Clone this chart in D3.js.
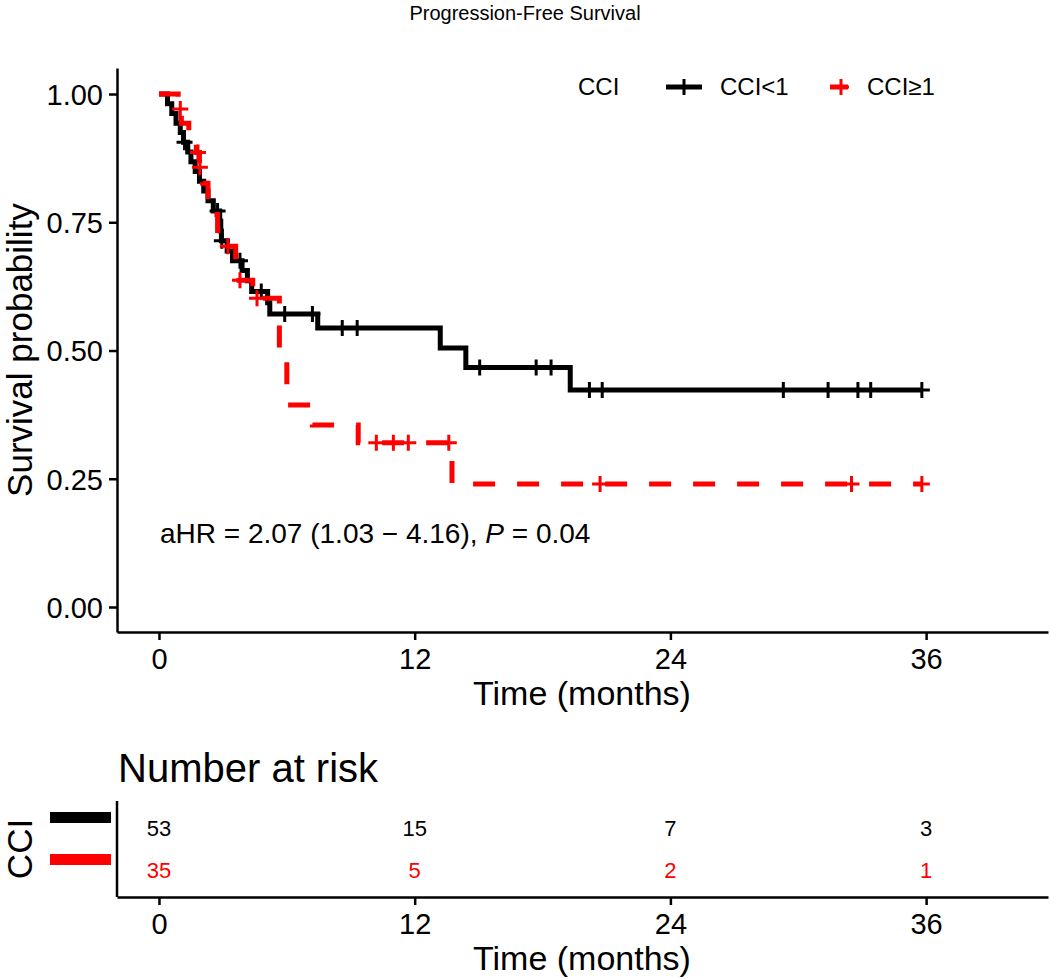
<!DOCTYPE html>
<html>
<head>
<meta charset="utf-8">
<script src="https://cdn.jsdelivr.net/npm/d3@7"></script>
<style>
  body { margin: 0; background: #fff; }
  svg { display: block; font-family: "Liberation Sans", Arial, sans-serif; }
</style>
</head>
<body>
<svg id="canvas" width="1050" height="979"></svg>
<script>
// Kaplan-Meier step points (months, survival after the drop)
let lowTimes = [0.4, 0.6, 0.8, 1.0, 1.15, 1.35, 1.5, 1.7, 1.9, 2.1, 2.3, 2.55, 2.85, 2.9, 2.93, 3.2, 3.45, 3.9, 4.15, 4.35, 5.1, 5.2, 7.45, 13.2, 14.4, 19.3];
let lowSurv = [0.981, 0.962, 0.943, 0.925, 0.906, 0.887, 0.868, 0.849, 0.830, 0.811, 0.792, 0.772, 0.752, 0.733, 0.714, 0.694, 0.675, 0.656, 0.636, 0.615, 0.593, 0.571, 0.544, 0.505, 0.467, 0.423];
let lowCensor = [1.2, 2.75, 2.95, 3.8, 4.8, 5.9, 7.2, 8.6, 9.3, 15.05, 17.7, 18.4, 20.2, 20.8, 29.3, 31.4, 32.8, 33.4, 35.8];

let highTimes = [0.9, 1.05, 1.4, 1.75, 1.9, 2.05, 2.3, 2.6, 2.75, 3.1, 3.6, 3.75, 4.4, 5.65, 6.0, 7.2, 9.35, 13.75];
let highSurv = [0.971, 0.943, 0.914, 0.886, 0.857, 0.826, 0.795, 0.765, 0.734, 0.703, 0.671, 0.637, 0.602, 0.50, 0.394, 0.355, 0.32, 0.24];
let highCensor = [1.0, 1.83, 1.92, 3.23, 3.8, 4.6, 10.2, 11.0, 11.7, 13.6, 20.7, 32.5, 35.8];

let groups = ['CCI<1', 'CCI\u22651'];
let colors = ['#000000', '#ff0000'];

let xTicks = [0, 12, 24, 36];
let yTicks = [0, 0.25, 0.5, 0.75, 1];
let riskTimes = [0, 12, 24, 36];
let riskLow = [53, 15, 7, 3];
let riskHigh = [35, 5, 2, 1];

let canvas = d3.select('#canvas');

let x = d3.scaleLinear().domain([-1.97, 41.72]).range([117, 1048]);
let y = d3.scaleLinear().domain([-0.0487, 1.0507]).range([632, 68]);

// helper: build step points from 1.0 at t=0 to the last follow-up time
let buildSteps = (times, surv, censor) => {
    let pts = [[0, 1]];
    times.forEach((t, i) => pts.push([t, surv[i]]));
    let end = d3.max(censor.concat(times));
    pts.push([end, surv[surv.length - 1]]);
    return pts;
};
let survAt = (times, surv, t) => {
    let i = d3.bisectRight(times, t);
    return i === 0 ? 1 : surv[i - 1];
};

// title
canvas.append('text')
    .attr('x', 525).attr('y', 20)
    .attr('text-anchor', 'middle')
    .attr('font-size', 20)
    .text('Progression-Free Survival');

// axes
let styleAxis = (g, fs) => {
    g.select('.domain').attr('stroke', '#000').attr('stroke-width', 2.5);
    g.selectAll('.tick line').attr('stroke', '#000').attr('stroke-width', 2.5);
    g.selectAll('.tick text').attr('font-size', fs).attr('fill', '#000')
        .attr('font-family', '"Liberation Sans", Arial, sans-serif');
};

let yAxis = canvas.append('g')
    .attr('transform', 'translate(117,0)')
    .call(d3.axisLeft(y).tickValues(yTicks).tickFormat(d3.format('.2f'))
        .tickSize(8).tickSizeOuter(0).tickPadding(6));
styleAxis(yAxis, 29);
yAxis.selectAll('.tick text').attr('dy', '0.36em');

let xAxis = canvas.append('g')
    .attr('transform', 'translate(0,632)')
    .call(d3.axisBottom(x).tickValues(xTicks).tickSize(8).tickSizeOuter(0).tickPadding(8));
styleAxis(xAxis, 29);

canvas.append('text')
    .attr('x', 582).attr('y', 705)
    .attr('text-anchor', 'middle')
    .attr('font-size', 34)
    .text('Time (months)');

canvas.append('text')
    .attr('transform', 'translate(32,350) rotate(-90)')
    .attr('text-anchor', 'middle')
    .attr('font-size', 35)
    .text('Survival probability');

// curves
let stepLine = d3.line()
    .x(d => x(d[0]))
    .y(d => y(d[1]))
    .curve(d3.curveStepAfter);

let series = [
    {times: lowTimes, surv: lowSurv, censor: lowCensor, color: colors[0], dash: null},
    {times: highTimes, surv: highSurv, censor: highCensor, color: colors[1], dash: '22,22'}
];

let crossPath = 'M-8,0H8M0,-8V8';

series.forEach((s) => {
    canvas.append('path')
        .attr('d', stepLine(buildSteps(s.times, s.surv, s.censor)))
        .attr('fill', 'none')
        .attr('stroke', s.color)
        .attr('stroke-width', 5)
        .attr('stroke-dasharray', s.dash);

    canvas.append('g').selectAll('path')
        .data(s.censor)
        .enter()
        .append('path')
        .attr('d', crossPath)
        .attr('transform', (t) => 'translate(' + x(t) + ',' + y(survAt(s.times, s.surv, t)) + ')')
        .attr('stroke', s.color)
        .attr('stroke-width', 3);
});

// legend
let legend = canvas.append('g');
legend.append('text')
    .attr('x', 578).attr('y', 95)
    .attr('font-size', 24)
    .text('CCI');
let keyX = [666, 812];
let labelX = [720, 867];
groups.forEach((g, i) => {
    legend.append('line')
        .attr('x1', keyX[i] + (i === 1 ? 18 : 0)).attr('x2', keyX[i] + 36)
        .attr('y1', 87).attr('y2', 87)
        .attr('stroke', colors[i]).attr('stroke-width', 5);
    legend.append('path')
        .attr('d', crossPath)
        .attr('transform', 'translate(' + (keyX[i] + (i === 1 ? 29 : 18)) + ',87)')
        .attr('stroke', colors[i]).attr('stroke-width', 3);
    legend.append('text')
        .attr('x', labelX[i]).attr('y', 95)
        .attr('font-size', 24)
        .text(g);
});

// annotation
let note = canvas.append('text')
    .attr('x', 160).attr('y', 543)
    .attr('font-size', 28);
note.append('tspan').text('aHR = 2.07 (1.03 \u2212 4.16), ');
note.append('tspan').attr('font-style', 'italic').text('P');
note.append('tspan').text(' = 0.04');

// risk table
canvas.append('text')
    .attr('x', 118).attr('y', 782)
    .attr('font-size', 40)
    .text('Number at risk');

let riskRows = [riskLow, riskHigh];
let rowY = d3.scalePoint().domain([0, 1]).range([828, 870]);

canvas.append('line')
    .attr('x1', 117).attr('x2', 117).attr('y1', 801).attr('y2', 897)
    .attr('stroke', '#000').attr('stroke-width', 2.5);

let riskAxis = canvas.append('g')
    .attr('transform', 'translate(0,897)')
    .call(d3.axisBottom(x).tickValues(xTicks).tickSize(8).tickSizeOuter(0).tickPadding(8));
styleAxis(riskAxis, 29);

riskRows.forEach((row, i) => {
    canvas.append('rect')
        .attr('x', 50).attr('y', rowY(i) - 16)
        .attr('width', 61).attr('height', 11)
        .attr('fill', colors[i]);
    canvas.append('g').selectAll('text')
        .data(row)
        .enter()
        .append('text')
        .attr('x', (d, j) => x(riskTimes[j]))
        .attr('y', rowY(i))
        .attr('dy', '0.36em')
        .attr('text-anchor', 'middle')
        .attr('font-size', 22)
        .attr('fill', colors[i])
        .text(d => d);
});

canvas.append('text')
    .attr('transform', 'translate(32,849) rotate(-90)')
    .attr('text-anchor', 'middle')
    .attr('font-size', 35)
    .text('CCI');

canvas.append('text')
    .attr('x', 582).attr('y', 970)
    .attr('text-anchor', 'middle')
    .attr('font-size', 34)
    .text('Time (months)');
</script>
</body>
</html>
